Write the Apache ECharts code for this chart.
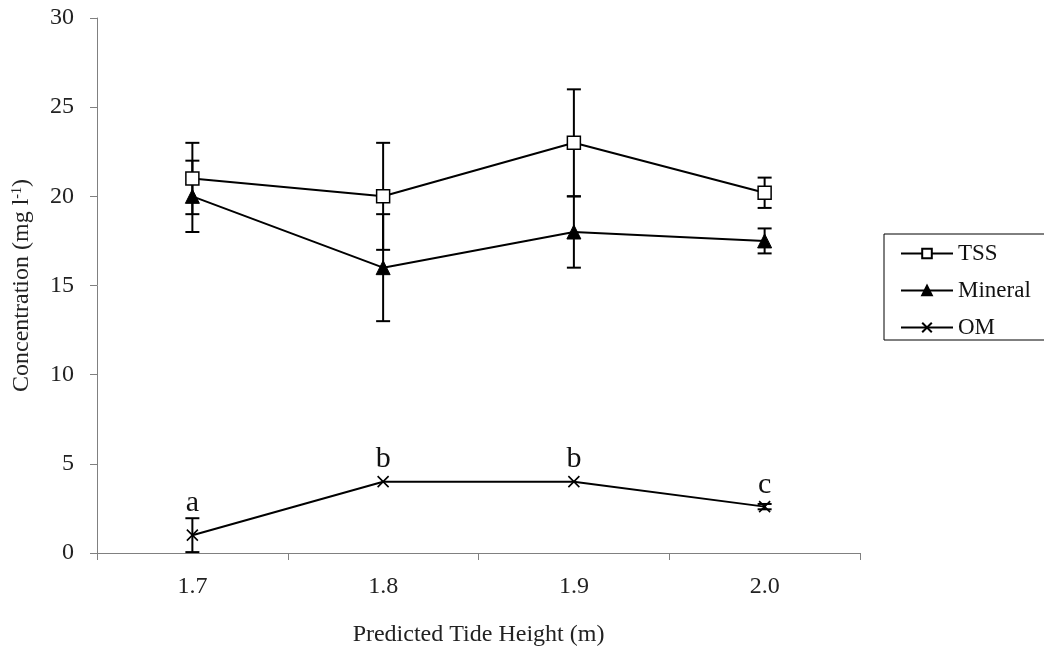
<!DOCTYPE html>
<html>
<head>
<meta charset="utf-8">
<script src="https://cdn.jsdelivr.net/npm/echarts@6/dist/echarts.min.js"></script>
<style>html,body{margin:0;padding:0;background:#fff}#c{width:1044px;height:652px}</style>
</head>
<body>
<div id="c"></div>
<script>
var categories = ['1.7', '1.8', '1.9', '2.0'];
var tssValues = [21, 20, 23, 20.2];
var tssErr = [2, 3, 3, 0.85];
var mineralValues = [20, 16, 18, 17.5];
var mineralErr = [2, 3, 2, 0.7];
var omValues = [1, 4, 4, 2.6];
var omErr = [0.95, 0, 0, 0.15];
var omLetters = ['a', 'b', 'b', 'c'];
var yTicks = [0, 5, 10, 15, 20, 25, 30];

var FONT = '"Liberation Serif", "Times New Roman", serif';
var chart = echarts.init(document.getElementById('c'), null, {renderer: 'canvas'});

function errorSeries(vals, errs) {
  var data = vals.map(function (v, i) { return [i, v - errs[i], v + errs[i]]; });
  return {
    type: 'custom',
    silent: true,
    z: 1,
    renderItem: function (params, api) {
      var x = api.value(0);
      var lo = api.coord([x, api.value(1)]);
      var hi = api.coord([x, api.value(2)]);
      if (Math.abs(hi[1] - lo[1]) < 0.5) return null;
      var hw = 7;
      var st = {stroke: '#000', lineWidth: 2};
      return {
        type: 'group',
        children: [
          {type: 'line', shape: {x1: lo[0], y1: lo[1], x2: hi[0], y2: hi[1]}, style: st},
          {type: 'line', shape: {x1: lo[0] - hw, y1: lo[1], x2: lo[0] + hw, y2: lo[1]}, style: st},
          {type: 'line', shape: {x1: hi[0] - hw, y1: hi[1], x2: hi[0] + hw, y2: hi[1]}, style: st}
        ]
      };
    },
    data: data
  };
}

var labelDist = [11, 1, 1, 0];
var omData = omValues.map(function (v, i) {
  return {value: v, label: {show: true, formatter: omLetters[i], distance: labelDist[i]}};
});

var option = {
  backgroundColor: '#fff',
  animation: false,
  textStyle: {fontFamily: FONT},
  grid: {left: 97, right: 184, top: 18, bottom: 99},
  legend: {
    orient: 'vertical',
    left: 884,
    top: 234,
    itemWidth: 52,
    itemHeight: 12,
    itemGap: 14,
    padding: [8, 40, 1, 16],
    borderColor: '#000',
    borderWidth: 1,
    textStyle: {fontFamily: FONT, fontSize: 23, color: '#111'},
    data: ['TSS', 'Mineral', 'OM']
  },
  xAxis: {
    type: 'category',
    data: categories,
    boundaryGap: true,
    name: 'Predicted Tide Height (m)',
    nameLocation: 'middle',
    nameGap: 70,
    nameTextStyle: {fontFamily: FONT, fontSize: 24, color: '#222'},
    axisLine: {lineStyle: {color: '#808080', width: 1}},
    axisTick: {show: true, length: 7, lineStyle: {color: '#808080'}},
    axisLabel: {fontFamily: FONT, fontSize: 24, color: '#222', margin: 22},
    splitLine: {show: false}
  },
  yAxis: {
    type: 'value',
    min: yTicks[0],
    max: yTicks[yTicks.length - 1],
    interval: 5,
    name: 'Concentration (mg l{sup|-1})',
    nameLocation: 'middle',
    nameGap: 63,
    nameTextStyle: {
      fontFamily: FONT, fontSize: 24, color: '#222',
      rich: {sup: {fontFamily: FONT, fontSize: 14, color: '#222', verticalAlign: 'top', lineHeight: 16, padding: [0, 0, 12, 0]}}
    },
    axisLine: {show: true, lineStyle: {color: '#808080', width: 1}},
    axisTick: {show: true, length: 7, lineStyle: {color: '#808080'}},
    axisLabel: {fontFamily: FONT, fontSize: 24, color: '#222', margin: 23},
    splitLine: {show: false}
  },
  series: [
    errorSeries(tssValues, tssErr),
    errorSeries(mineralValues, mineralErr),
    errorSeries(omValues, omErr),
    {
      name: 'TSS', type: 'line', z: 3,
      data: tssValues,
      symbol: 'rect', symbolSize: 13,
      lineStyle: {color: '#000', width: 2},
      itemStyle: {color: '#fff', borderColor: '#000', borderWidth: 1.5}
    },
    {
      name: 'Mineral', type: 'line', z: 3,
      data: mineralValues,
      symbol: 'triangle', symbolSize: 14,
      lineStyle: {color: '#000', width: 2},
      itemStyle: {color: '#000', borderColor: '#000', borderWidth: 1}
    },
    {
      name: 'OM', type: 'line', z: 3,
      data: omData,
      symbol: 'path://M0,0L10,10M10,0L0,10', symbolSize: 11,
      lineStyle: {color: '#000', width: 2},
      itemStyle: {color: '#000', borderColor: '#000', borderWidth: 1.6},
      label: {show: true, position: 'top', fontFamily: FONT, fontSize: 30, color: '#111'}
    }
  ]
};
chart.setOption(option);
</script>
</body>
</html>
